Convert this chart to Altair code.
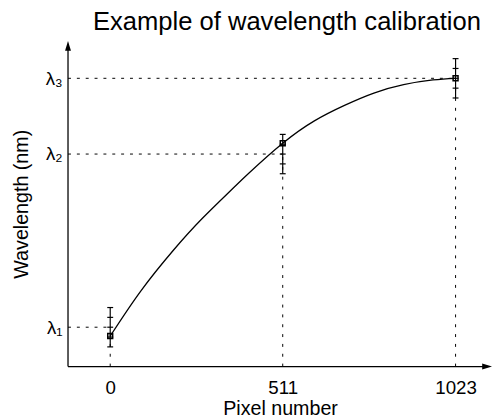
import altair as alt
import pandas as pd

# ---- data ----
pixels = [0, 511, 1023]
lambda_levels = [40, 216, 293]
lambda_labels = ["λ₁", "λ₂", "λ₃"]
fitted = [31, 227, 293]
err_steps = [-20, -10, 0, 10, 20]
curve_x = [0, 91, 189, 271, 354, 412, 511, 606, 694, 781, 869, 956, 1023]
curve_y = [31, 77, 119, 150, 178, 197, 227, 250, 265.5, 278, 286.5, 291.3, 293]
x_domain = [-125, 1131]
y_domain = [0, 331]

FONT = "Liberation Sans"

pts = pd.DataFrame({
    "pixel": pixels,
    "lam": lambda_levels,
    "fit": fitted,
    "xmin": [x_domain[0]] * len(pixels),
    "ymin": [y_domain[0]] * len(pixels),
    "lo": [l + min(err_steps) for l in lambda_levels],
    "hi": [l + max(err_steps) for l in lambda_levels],
})
err = pd.DataFrame([
    {"pixel": p, "ey": l + s} for p, l in zip(pixels, lambda_levels) for s in err_steps
])
curve = pd.DataFrame({"pixel": curve_x, "val": curve_y})

label_expr = " : ".join(
    f"datum.value == {v} ? '{t}'" for v, t in zip(lambda_levels, lambda_labels)
) + " : ''"

x_scale = alt.Scale(domain=x_domain, nice=False, zero=False)
y_scale = alt.Scale(domain=y_domain, nice=False, zero=False)
x_axis = alt.Axis(values=pixels, format="d", domain=False, ticks=False, grid=False,
                  labelFontSize=19, labelPadding=12, labelFont=FONT,
                  title="Pixel number", titleFontSize=20, titleFont=FONT,
                  titleFontWeight="normal", titlePadding=2, titleColor="black",
                  labelColor="black")
y_axis = alt.Axis(values=lambda_levels, labelExpr=label_expr, domain=False,
                  ticks=False, grid=False, labelFontSize=19, labelPadding=6,
                  labelFont=FONT, title="Wavelength (nm)", titleFontSize=20,
                  titleFont=FONT, titleFontWeight="normal", titlePadding=14,
                  titleColor="black", labelColor="black")


def X(field):
    return alt.X(f"{field}:Q", scale=x_scale, axis=x_axis, title="Pixel number")


def Y(field):
    return alt.Y(f"{field}:Q", scale=y_scale, axis=y_axis, title="Wavelength (nm)")


base_pts = alt.Chart(pts)

hdash = base_pts.mark_rule(color="black", strokeWidth=1, strokeDash=[3, 6]).encode(
    x=X("xmin"), x2="pixel", y=Y("lam"))
vdash = base_pts.mark_rule(color="black", strokeWidth=1, strokeDash=[3, 7]).encode(
    x=X("pixel"), y=Y("ymin"), y2="lam")
ebar = base_pts.mark_rule(color="black", strokeWidth=1.2).encode(
    x=X("pixel"), y=Y("lo"), y2="hi")
eticks = alt.Chart(err).mark_tick(color="black", orient="horizontal", size=6,
                                  thickness=1.2, opacity=1).encode(
    x=X("pixel"), y=Y("ey"))
line = alt.Chart(curve).mark_line(color="black", strokeWidth=1.3,
                                  interpolate="natural").encode(
    x=X("pixel"), y=Y("val"))
squares = base_pts.mark_point(shape="square", filled=False, size=25,
                              strokeWidth=1.5, color="black", opacity=1).encode(
    x=X("pixel"), y=Y("fit"))

axis_src = alt.Chart(pd.DataFrame({"a": [0]}))
x_axis_line = axis_src.mark_rule(color="black", strokeWidth=1.3, x2Offset=-8).encode(
    x=alt.datum(x_domain[0]), x2=alt.datum(x_domain[1]), y=alt.datum(y_domain[0]))
y_axis_line = axis_src.mark_rule(color="black", strokeWidth=1.3, y2Offset=8).encode(
    x=alt.datum(x_domain[0]), y=alt.datum(y_domain[0]), y2=alt.datum(y_domain[1]))
x_arrow = axis_src.mark_point(shape="M1,0L-1,-0.6L-1,0.6Z", filled=True, size=100,
                              color="black", opacity=1, xOffset=-5).encode(
    x=alt.datum(x_domain[1]), y=alt.datum(y_domain[0]))
y_arrow = axis_src.mark_point(shape="M0,-1L0.6,1L-0.6,1Z", filled=True, size=100,
                              color="black", opacity=1, yOffset=5).encode(
    x=alt.datum(x_domain[0]), y=alt.datum(y_domain[1]))

chart = alt.layer(
    hdash, vdash, line, ebar, eticks, squares,
    x_axis_line, y_axis_line, x_arrow, y_arrow,
).properties(
    width=431, height=331,
    autosize=alt.AutoSizeParams(type="none"),
    padding={"left": 61, "top": 30, "right": 2, "bottom": 60},
    title=alt.TitleParams("Example of wavelength calibration", font=FONT,
                          fontSize=26, fontWeight="normal", color="black",
                          anchor="middle", baseline="bottom", frame="group",
                          offset=-20, dx=7),
    background="white",
).configure_view(stroke=None)

chart.save("out.html", embed_options={"renderer": "svg", "actions": False})
